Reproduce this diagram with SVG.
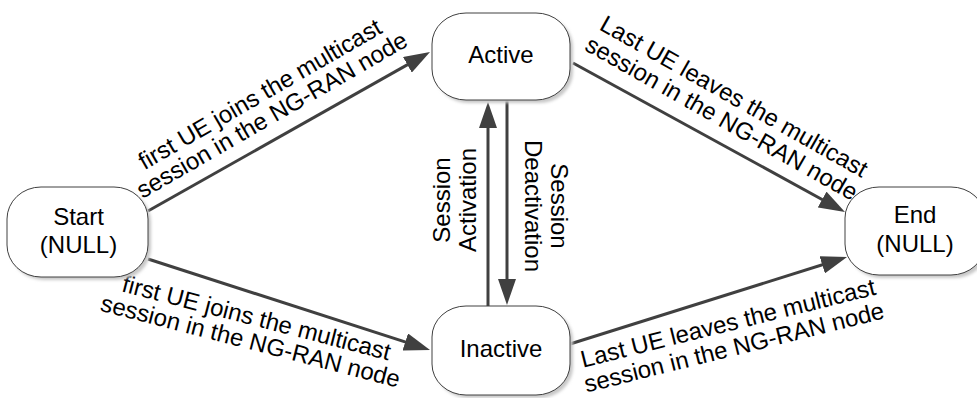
<svg xmlns="http://www.w3.org/2000/svg" width="977" height="398" viewBox="0 0 977 398">
<style>
  .node rect.box { fill: #ffffff; stroke: #404040; stroke-width: 1; }
  .node rect.shadow { fill: #c8c8c8; filter: url(#blur); }
  text { font-family: "Liberation Sans", Arial, sans-serif; font-size: 24px; fill: #000000; }
  .ntext { text-anchor: middle; }
  .lbl { text-anchor: middle; }
  .conn { stroke: #404040; stroke-width: 3; fill: none; marker-end: url(#arrow); }
</style>
<defs>
  <filter id="blur" x="-10%" y="-10%" width="120%" height="120%">
    <feGaussianBlur stdDeviation="1.5"/>
  </filter>
  <marker id="arrow" markerUnits="userSpaceOnUse" markerWidth="26" markerHeight="18" refX="16" refY="9" orient="auto">
    <path d="M0,0 L26,9 L0,18 z" fill="#404040"/>
  </marker>
</defs>
<rect width="977" height="398" fill="#ffffff"/>

<g id="connectors">
  <path class="conn" d="M148,211 L421.3,56.9"/>
  <path class="conn" d="M148,259 L420.5,346.9"/>
  <path class="conn" d="M573,63 L836.2,207.2"/>
  <path class="conn" d="M570,344 L837.5,260"/>
  <path class="conn" d="M488,306 L488,112"/>
  <path class="conn" d="M507,100 L507,295"/>
  <text class="lbl" transform="translate(276,122) rotate(-30)"><tspan x="0" y="-24">first UE joins the multicast</tspan><tspan x="0" y="0">session in the NG-RAN node</tspan></text>
  <text class="lbl" transform="translate(248.5,349) rotate(14.5)"><tspan x="0" y="-24">first UE joins the multicast</tspan><tspan x="0" y="0">session in the NG-RAN node</tspan></text>
  <text class="lbl" transform="translate(730,103.5) rotate(29.5)"><tspan x="0" y="0">Last UE leaves the multicast</tspan><tspan x="0" y="25">session in the NG-RAN node</tspan></text>
  <text class="lbl" transform="translate(730,331) rotate(-14)"><tspan x="0" y="0">Last UE leaves the multicast</tspan><tspan x="0" y="25">session in the NG-RAN node</tspan></text>
  <text class="lbl" transform="translate(450,200) rotate(-90)"><tspan x="0" y="0">Session</tspan><tspan x="0" y="26">Activation</tspan></text>
  <text class="lbl" transform="translate(551,206) rotate(90)"><tspan x="0" y="0">Session</tspan><tspan x="0" y="26">Deactivation</tspan></text>
</g>

<g id="start" class="node">
  <rect class="shadow" x="10" y="190" width="141" height="90" rx="34" ry="32"/>
  <rect class="box" x="7" y="187" width="141" height="90" rx="34" ry="32"/>
  <text class="ntext" x="78.5" y="225">Start</text>
  <text class="ntext" x="78.5" y="253">(NULL)</text>
</g>
<g id="active" class="node">
  <rect class="shadow" x="435" y="16" width="138" height="87" rx="34" ry="31"/>
  <rect class="box" x="432" y="13" width="138" height="87" rx="34" ry="31"/>
  <text class="ntext" x="501" y="63">Active</text>
</g>
<g id="inactive" class="node">
  <rect class="shadow" x="435" y="309" width="138" height="89" rx="34" ry="31"/>
  <rect class="box" x="432" y="306" width="138" height="89" rx="34" ry="31"/>
  <text class="ntext" x="501" y="357">Inactive</text>
</g>
<g id="end" class="node">
  <rect class="shadow" x="848" y="190" width="140" height="88" rx="34" ry="31"/>
  <rect class="box" x="845" y="187" width="140" height="88" rx="34" ry="31"/>
  <text class="ntext" x="915" y="223">End</text>
  <text class="ntext" x="915" y="252">(NULL)</text>
</g>
</svg>
